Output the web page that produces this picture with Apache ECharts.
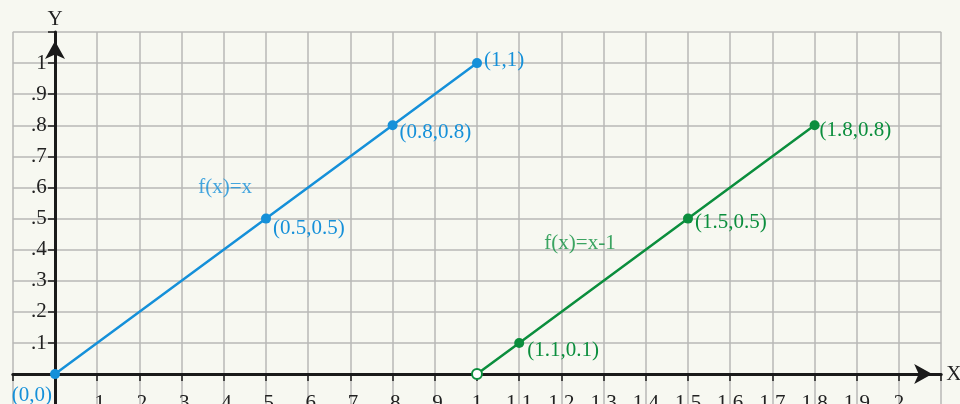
<!DOCTYPE html>
<html>
<head>
<meta charset="utf-8">
<script src="https://cdn.jsdelivr.net/npm/echarts@6/dist/echarts.min.js"></script>
<style>
html,body{margin:0;padding:0;background:#f7f8f1;}
#chart{width:960px;height:404px;}
</style>
</head>
<body>
<div id="chart"></div>
<script>
// ---- data ----
const xTickLabels = ['.1','.2','.3','.4','.5','.6','.7','.8','.9','1','1.1','1.2','1.3','1.4','1.5','1.6','1.7','1.8','1.9','2'];
const yTickLabels = ['.1','.2','.3','.4','.5','.6','.7','.8','.9','1'];
const blueX = [0, 0.5, 0.8, 1];
const blueY = [0, 0.5, 0.8, 1];
const blueLabels = ['(0,0)', '(0.5,0.5)', '(0.8,0.8)', '(1,1)'];
const greenX = [1, 1.1, 1.5, 1.8];
const greenY = [0, 0.1, 0.5, 0.8];
const greenLabels = ['', '(1.1,0.1)', '(1.5,0.5)', '(1.8,0.8)'];
const funcNames = ['f(x)=x', 'f(x)=x-1'];
const funcNameX = [0.403, 1.244];
const funcNameY = [0.601, 0.421];

// ---- style ----
const BLUE = '#1590d9';
const GREEN = '#0b8e3d';
const AXIS = '#1a1a1a';
const GRIDC = '#b9b9b6';
const FONT = 'Liberation Serif';
const FS = 21;

const blueLabelStyle = [
  {position: 'left', distance: 0, offset: [2, 21]},
  {position: 'right', distance: 2, offset: [0, 10]},
  {position: 'right', distance: 2, offset: [0, 7]},
  {position: 'right', distance: 2, offset: [0, -3]}
];
const greenLabelStyle = [
  {show: false},
  {position: 'right', distance: 3, offset: [0, 7]},
  {position: 'right', distance: 2, offset: [0, 4]},
  {position: 'right', distance: 0, offset: [0, 5]}
];

const blueData = blueX.map((x, i) => ({
  value: [x, blueY[i]],
  label: Object.assign({show: true, formatter: blueLabels[i], color: BLUE, fontFamily: FONT, fontSize: FS}, blueLabelStyle[i])
}));
const greenData = greenX.map((x, i) => {
  const d = {
    value: [x, greenY[i]],
    label: Object.assign({show: true, formatter: greenLabels[i], color: GREEN, fontFamily: FONT, fontSize: FS}, greenLabelStyle[i])
  };
  if (i === 0) d.itemStyle = {color: '#ffffff', borderColor: GREEN, borderWidth: 2};
  return d;
});

function xFmt(v) { const i = Math.round(v * 10); return (i >= 1 && i <= 20) ? xTickLabels[i - 1] : ''; }
function yFmt(v) { const i = Math.round(v * 10); return (i >= 1 && i <= 10) ? yTickLabels[i - 1] : ''; }

const chart = echarts.init(document.getElementById('chart'), null, {renderer: 'canvas'});
chart.setOption({
  backgroundColor: '#f7f8f1',
  animation: false,
  grid: {left: 12.8, top: 32, width: 928.4, height: 373.2, containLabel: false, outerBoundsMode: 'none'},
  xAxis: [{
    type: 'value', min: -0.1, max: 2.1, interval: 0.1,
    name: 'X', nameLocation: 'end', nameGap: 5,
    nameTextStyle: {fontFamily: FONT, fontSize: FS, color: '#222'},
    axisLine: {onZero: true, onZeroAxisIndex: 0, symbol: ['none', 'arrow'], symbolSize: [15, 18], symbolOffset: [0, -9], lineStyle: {color: AXIS, width: 3}},
    axisTick: {show: true, length: 7, lineStyle: {color: AXIS, width: 1.5}},
    axisLabel: {formatter: xFmt, margin: -12, fontFamily: FONT, fontSize: FS, color: '#222'},
    splitLine: {show: true, lineStyle: {color: GRIDC, width: 1.5}}
  }, {
    type: 'value', min: -0.1, max: 2.1, interval: 0.1,
    axisLine: {show: true, onZero: true, onZeroAxisIndex: 0, lineStyle: {color: AXIS, width: 0, opacity: 0}},
    axisTick: {show: true, inside: true, length: 7, lineStyle: {color: AXIS, width: 1.5, opacity: 1}},
    axisLabel: {show: false},
    splitLine: {show: false}
  }],
  yAxis: [{
    type: 'value', min: -0.1, max: 1.1, interval: 0.1,
    name: 'Y', nameLocation: 'end', nameGap: 2,
    nameTextStyle: {fontFamily: FONT, fontSize: FS, color: '#222'},
    axisLine: {onZero: true, onZeroAxisIndex: 0, symbol: ['none', 'arrow'], symbolSize: [15, 18], symbolOffset: [0, -9], lineStyle: {color: AXIS, width: 3}},
    axisTick: {show: true, length: 7, lineStyle: {color: AXIS, width: 1.5}},
    axisLabel: {formatter: yFmt, margin: -34, fontFamily: FONT, fontSize: FS, color: '#222'},
    splitLine: {show: true, lineStyle: {color: GRIDC, width: 1.5}}
  }, {
    type: 'value', min: -0.1, max: 1.1, interval: 0.1,
    axisLine: {show: true, onZero: true, onZeroAxisIndex: 0, lineStyle: {color: AXIS, width: 0, opacity: 0}},
    axisTick: {show: true, inside: true, length: 7, lineStyle: {color: AXIS, width: 1.5, opacity: 1}},
    axisLabel: {show: false},
    splitLine: {show: false}
  }],
  series: [{
    type: 'line', xAxisIndex: 0, yAxisIndex: 0,
    data: blueData, symbol: 'circle', symbolSize: 10, showAllSymbol: true,
    lineStyle: {color: BLUE, width: 2.5}, itemStyle: {color: BLUE},
    z: 5
  }, {
    type: 'line', xAxisIndex: 0, yAxisIndex: 0,
    data: greenData, symbol: 'circle', symbolSize: 10, showAllSymbol: true,
    lineStyle: {color: GREEN, width: 2.5}, itemStyle: {color: GREEN},
    z: 5
  }, {
    type: 'scatter', xAxisIndex: 0, yAxisIndex: 0, symbolSize: 0,
    data: funcNames.map((n, i) => ({
      value: [funcNameX[i], funcNameY[i]],
      label: {show: true, position: 'inside', formatter: n, color: i === 0 ? BLUE : GREEN, fontFamily: FONT, fontSize: FS}
    })),
    z: 6
  }]
});
</script>
</body>
</html>
